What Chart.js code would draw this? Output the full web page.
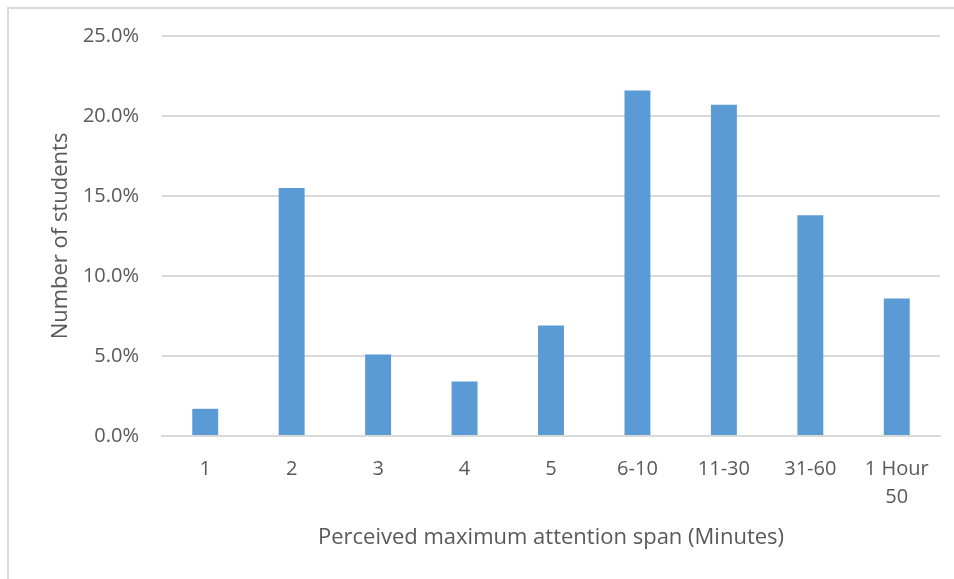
<!DOCTYPE html>
<html>
<head>
<meta charset="utf-8">
<script src="https://cdn.jsdelivr.net/npm/chart.js@4"></script>
<style>
  html, body { margin: 0; padding: 0; background: #fff; }
  #wrap { position: relative; width: 954px; height: 579px; overflow: hidden; }
  #frame { position: absolute; left: 7px; top: 7px; width: 1000px; height: 700px; border: 2px solid #dadada; box-sizing: border-box; }
  #box { position: absolute; left: 0; top: 0; width: 954px; height: 579px; }
</style>
</head>
<body>
<div id="wrap">
  <div id="frame"></div>
  <div id="box"><canvas id="barras"></canvas></div>
</div>
<script>
const categorias = ['1', '2', '3', '4', '5', '6-10', '11-30', '31-60', ['1 Hour', '50']];
const porcentajes = [1.7, 15.5, 5.1, 3.4, 6.9, 21.6, 20.7, 13.8, 8.6];
const yTicks = [0, 5, 10, 15, 20, 25];

const texto = '#595959';
const fuente = "'Open Sans', sans-serif";

function grafico_barras(){
  const ctx = document.getElementById('barras');
  new Chart(ctx, {
    type: 'bar',
    data: {
      labels: categorias,
      datasets: [{
        label: 'Number of students',
        data: porcentajes,
        backgroundColor: '#5b9bd5',
        borderWidth: 0,
        barPercentage: 0.6,
        categoryPercentage: 0.5
      }]
    },
    options: {
      responsive: true,
      maintainAspectRatio: false,
      animation: false,
      layout: { padding: { left: 0, top: 36, right: 14, bottom: 0 } },
      plugins: { legend: { display: false }, tooltip: { enabled: false } },
      scales: {
        x: {
          grid: { display: false },
          border: { display: true, color: '#d9d9d9', width: 2 },
          ticks: {
            color: texto, padding: 11, maxRotation: 0, autoSkip: false,
            font: { family: fuente, size: 20, lineHeight: 1.4 }
          },
          title: {
            display: true, text: 'Perceived maximum attention span (Minutes)',
            color: texto, font: { family: fuente, size: 22 },
            padding: { top: 0, bottom: 28 }
          },
          afterFit: s => { s.height = 143; }
        },
        y: {
          min: 0, max: 25,
          afterBuildTicks: s => { s.ticks = yTicks.map(v => ({ value: v })); },
          grid: { color: '#d9d9d9', lineWidth: 2, drawTicks: false },
          border: { display: false },
          ticks: {
            color: texto, padding: 23,
            font: { family: fuente, size: 20 },
            callback: v => v.toFixed(1) + '%'
          },
          title: {
            display: true, text: 'Number of students',
            color: texto, font: { family: fuente, size: 22 },
            padding: { top: 48, bottom: 0 }
          },
          afterFit: s => { s.width = 162; }
        }
      }
    }
  });
}

grafico_barras();
</script>
</body>
</html>
